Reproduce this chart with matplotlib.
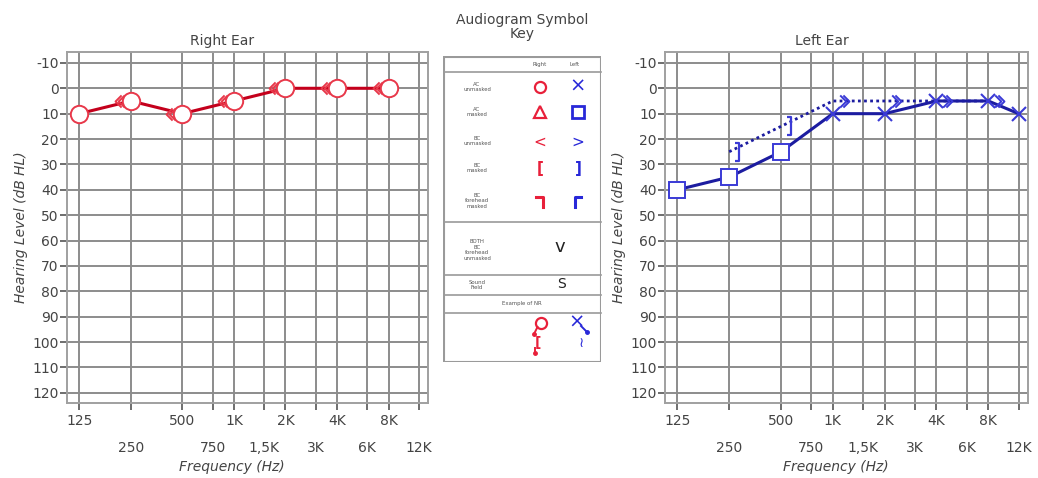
import matplotlib
matplotlib.use("Agg")
import matplotlib.pyplot as plt
from matplotlib.path import Path
from matplotlib.markers import MarkerStyle
from matplotlib.patches import Rectangle
import numpy as np

# ---------------- data ----------------
freq_major = [125, 500, 1000, 2000, 4000, 8000]
freq_major_labels = ["125", "500", "1K", "2K", "4K", "8K"]
freq_minor = [250, 750, 1500, 3000, 6000, 12000]
freq_minor_labels = ["250", "750", "1,5K", "3K", "6K", "12K"]
db_ticks = list(range(-10, 121, 10))

# Right ear
right_ac_freq = [125, 250, 500, 1000, 2000, 4000, 8000]
right_ac_db = [10, 5, 10, 5, 0, 0, 0]
right_bc_freq = [250, 500, 1000, 2000, 4000, 8000]
right_bc_db = [5, 10, 5, 0, 0, 0]

# Left ear
left_acm_freq = [125, 250, 500]          # AC masked (squares)
left_acm_db = [40, 35, 25]
left_ac_freq = [1000, 2000, 4000, 8000, 12000]   # AC unmasked (X)
left_ac_db = [10, 10, 5, 5, 10]
left_bcm_freq = [250, 500]               # BC masked ]
left_bcm_db = [25, 15]
left_bc_freq = [1000, 2000, 4000, 8000]  # BC unmasked >
left_bc_db = [5, 5, 5, 5]

# ---------------- styles ----------------
RED_LINE = "#c4001c"
RED_MK = "#e8384a"
BLUE_LINE = "#1c1ca0"
BLUE_MK = "#3a3ad6"
GRID = "#8c8c8c"
TXT = "#444444"

def chevrons(direction):
    s = -1 if direction == "left" else 1
    verts = [(s*0.62, 0.38), (s*1.0, 0.0), (s*0.62, -0.38),
             (s*0.42, 0.38), (s*0.80, 0.0), (s*0.42, -0.38)]
    codes = [Path.MOVETO, Path.LINETO, Path.LINETO,
             Path.MOVETO, Path.LINETO, Path.LINETO]
    return MarkerStyle(Path(verts, codes))

def bracket_right():
    verts = [(0.35, 0.55), (0.62, 0.55), (0.62, -0.55), (0.35, -0.55),
             (1.0, 0.0), (-1.0, 0.0)]
    codes = [Path.MOVETO, Path.LINETO, Path.LINETO, Path.LINETO,
             Path.MOVETO, Path.MOVETO]
    return MarkerStyle(Path(verts, codes))

fig = plt.figure(figsize=(10.38, 4.78), dpi=100)
W, H = 1038.0, 478.0

def make_ax(x0, x1, y0, y1, title, title_x, xlabel_x):
    ax = fig.add_axes([x0 / W, 1 - y1 / H, (x1 - x0) / W, (y1 - y0) / H])
    ax.set_xscale("log")
    ax.set_xlim(106, 13600)
    ax.set_ylim(124, -14.3)
    ax.set_xticks(freq_major)
    ax.set_xticklabels(freq_major_labels)
    ax.set_xticks(freq_minor, minor=True)
    ax.set_xticklabels(freq_minor_labels, minor=True)
    ax.set_yticks(db_ticks)
    ax.set_yticklabels([str(v) for v in db_ticks])
    ax.tick_params(axis="x", which="major", length=5, width=1.2, color="#555555",
                   labelsize=10, labelcolor=TXT, pad=3)
    ax.tick_params(axis="x", which="minor", length=5, width=1.2, color="#555555",
                   labelsize=10, labelcolor=TXT, pad=22)
    ax.tick_params(axis="y", length=5, width=1.2, color="#555555",
                   labelsize=10, labelcolor=TXT, pad=1)
    ax.grid(True, which="both", color=GRID, linewidth=1.4)
    ax.set_axisbelow(True)
    for sp in ax.spines.values():
        sp.set_color("#a0a0a0")
        sp.set_linewidth(1.4)
    ax.set_title(title, fontsize=10, color=TXT, pad=5, x=title_x)
    ax.set_ylabel("Hearing Level (dB HL)", fontsize=10, style="italic",
                  color=TXT, labelpad=3)
    ax.set_xlabel("Frequency (Hz)", fontsize=10, style="italic", color=TXT)
    ax.xaxis.set_label_coords(xlabel_x, -0.163)
    return ax

# ---------------- right ear ----------------
axR = make_ax(67, 428, 52, 403, "Right Ear", 0.43, 0.457)
axR.plot(right_ac_freq, right_ac_db, color=RED_LINE, lw=2.2, zorder=3)
axR.plot(right_bc_freq, right_bc_db, ls="none", marker=chevrons("left"),
         ms=23, mec=RED_MK, mfc="none", mew=1.4, zorder=4)
axR.plot(right_ac_freq, right_ac_db, ls="none", marker="o", ms=12.5,
         mec=RED_MK, mfc="white", mew=1.4, zorder=5)

# ---------------- left ear ----------------
axL = make_ax(665, 1028, 52, 403, "Left Ear", 0.432, 0.47)
axL.plot(left_bcm_freq + left_bc_freq, left_bcm_db + left_bc_db,
         color=BLUE_LINE, lw=2.0, ls=(0, (1, 1.2)), zorder=3)
axL.plot(left_acm_freq + left_ac_freq, left_acm_db + left_ac_db,
         color=BLUE_LINE, lw=2.2, zorder=3)
axL.plot(left_bcm_freq, left_bcm_db, ls="none", marker=bracket_right(),
         ms=24, mec=BLUE_MK, mfc="none", mew=1.6, zorder=4)
axL.plot(left_bc_freq, left_bc_db, ls="none", marker=chevrons("right"),
         ms=23, mec=BLUE_MK, mfc="none", mew=1.4, zorder=4)
axL.plot(left_acm_freq, left_acm_db, ls="none", marker="s", ms=11.5,
         mec=BLUE_MK, mfc="white", mew=1.4, zorder=5)
axL.plot(left_ac_freq, left_ac_db, ls="none", marker="x", ms=10,
         mec=BLUE_MK, mew=1.5, zorder=5)

# ---------------- symbol key ----------------
fig.text(522 / W, 1 - 27 / H, "Audiogram Symbol\nKey", ha="center", va="center",
         fontsize=10, color=TXT, linespacing=1.05)
KX0, KX1, KY0, KY1 = 443, 601, 56, 362
axK = fig.add_axes([KX0 / W, 1 - KY1 / H, (KX1 - KX0) / W, (KY1 - KY0) / H])
axK.set_xlim(KX0, KX1)
axK.set_ylim(KY1, KY0)
axK.axis("off")
axK.add_patch(Rectangle((KX0 + 0.5, KY0 + 0.5), KX1 - KX0 - 1, KY1 - KY0 - 1,
                        fill=False, ec="#9a9a9a", lw=1.5))
for yy in [72, 222, 275, 295, 313]:
    axK.plot([KX0 + 0.5, KX1 - 0.5], [yy, yy], color="#9a9a9a", lw=1.2)

small = dict(fontsize=3.9, color="#555555", ha="center", va="center", linespacing=1.1)
axK.text(540, 64, "Right", **small)
axK.text(575, 64, "Left", **small)
rows = [("AC\nunmasked", 87), ("AC\nmasked", 112), ("BC\nunmasked", 141),
        ("BC\nmasked", 168), ("BC\nforehead\nmasked", 201),
        ("BOTH\nBC\nforehead\nunmasked", 250), ("Sound\nField", 285)]
for t, yy in rows:
    axK.text(477, yy, t, **small)
axK.text(522, 304, "Example of NR", **small)

R_K = "#e8203a"
B_K = "#2828d8"
# right-column symbols
axK.plot([540], [87], marker="o", ms=8, mec=R_K, mfc="none", mew=1.6)
axK.plot([540], [112], marker="^", ms=8.5, mec=R_K, mfc="none", mew=1.6)
axK.text(540, 142, "<", color=R_K, fontsize=11, ha="center", va="center")
axK.text(540, 169, "[", color=R_K, fontsize=11, ha="center", va="center",
         fontweight="bold")
axK.plot([536, 543, 543], [197, 197, 207], color=R_K, lw=2.2)
# left-column symbols
axK.text(578, 86, "×", color=B_K, fontsize=14, ha="center", va="center")
axK.plot([578], [112], marker="s", ms=8, mec=B_K, mfc="none", mew=2.0)
axK.text(578, 142, ">", color=B_K, fontsize=11, ha="center", va="center")
axK.text(578, 169, "]", color=B_K, fontsize=11, ha="center", va="center",
         fontweight="bold")
axK.plot([575, 575, 581], [207, 197, 197], color=B_K, lw=2.2)
axK.text(560, 247, "v", color="#222222", fontsize=13, ha="center", va="center")
axK.text(561, 284, "S", color="#222222", fontsize=10, ha="center", va="center")
# NR examples
axK.plot([541], [323], marker="o", ms=8, mec=R_K, mfc="none", mew=1.6)
axK.plot([537.5, 534], [327, 334], color=R_K, lw=1.4)
axK.plot([534], [334], marker="o", ms=2.5, color=R_K)
axK.text(538, 343, "[", color=R_K, fontsize=10, ha="center", va="center",
         fontweight="bold")
axK.plot([535, 535], [348, 352], color=R_K, lw=1.4)
axK.plot([535], [353], marker="o", ms=2.5, color=R_K)
axK.text(577, 322, "×", color=B_K, fontsize=14, ha="center", va="center")
axK.plot([581, 587], [326, 332], color=B_K, lw=1.4)
axK.plot([587], [332], marker="o", ms=2.5, color=B_K)
axK.text(581, 343, "\u2240", color=B_K, fontsize=10, ha="center", va="center")
for ln in axK.lines:
    ln.set_clip_on(False)
for tx in axK.texts:
    tx.set_clip_on(False)

fig.savefig("out.png", dpi=100)
